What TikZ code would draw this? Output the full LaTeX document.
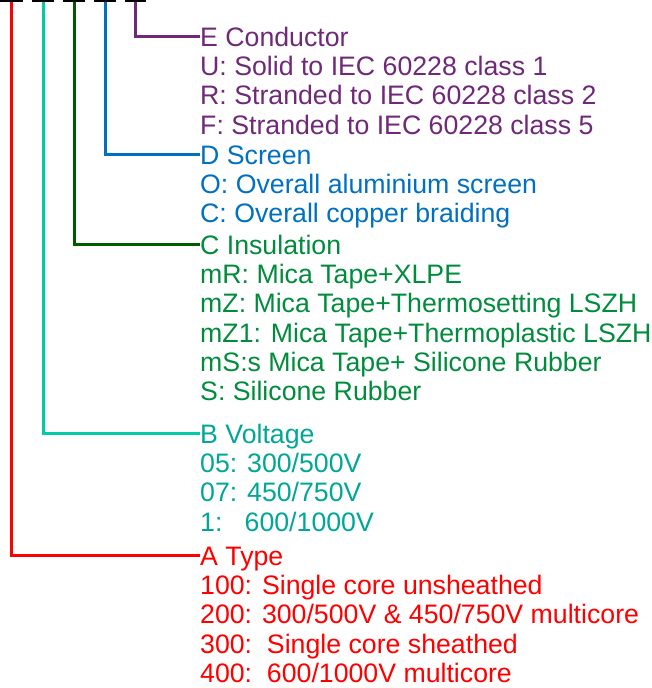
\documentclass[tikz,border=0pt]{standalone}
\usepackage{fontspec}
\setmainfont{Liberation Sans}
\usetikzlibrary{positioning}
\definecolor{typecolor}{RGB}{255,0,0}
\definecolor{voltline}{RGB}{0,204,170}
\definecolor{volttext}{RGB}{0,166,150}
\definecolor{insuline}{RGB}{0,90,0}
\definecolor{insutext}{RGB}{0,140,60}
\definecolor{screencolor}{RGB}{0,112,192}
\definecolor{condcolor}{RGB}{112,40,120}

\begin{document}
\begin{tikzpicture}[x=1pt, y=1pt,
    txt/.style={inner sep=0pt, font=\fontsize{26.7}{29.3}\selectfont},
    head/.style={txt, anchor=base west, text height=18.5pt, text depth=0pt},
    % the base of a list is its last line
    items/.style 2 args={txt, align=left, below=#2 of #1.base west, anchor=base west},
    wire/.style={line width=3pt}]
    \useasboundingbox (0,0) rectangle (651,-688);

    % code positions
    \foreach \name/\xa/\xb in {tA/0/23, tB/32/54, tC/63/85, tD/94/116, tE/125/146} {
        \draw[line width=3pt] (\xa,-0.5) -- (\xb,-0.5);
        \coordinate (\name) at ({(\xa+\xb)/2},-2);
    }

    % E
    \node[head, text=condcolor] (eHead) at (200,-46.2) {E Conductor};
    \node[items={eHead}{87.9pt}, text=condcolor] (eList) {U: Solid to IEC 60228 class 1\\R: Stranded to IEC 60228 class 2\\F: Stranded to IEC 60228 class 5};
    % D
    \node[head, text=screencolor] (dHead) at (200,-164.2) {D Screen};
    \node[items={dHead}{58.6pt}, text=screencolor] (dList) {O: Overall aluminium screen\\C: Overall copper braiding};
    % C
    \node[head, text=insutext] (cHead) at (200,-254.2) {C Insulation};
    \node[items={cHead}{146.5pt}, text=insutext] (cList) {mR: Mica Tape+XLPE\\mZ: Mica Tape+Thermosetting LSZH\\mZ1: Mica Tape+Thermoplastic LSZH\\mS:s Mica Tape+ Silicone Rubber\\S: Silicone Rubber};
    % B
    \node[head, text=volttext] (bHead) at (200,-443.2) {B Voltage};
    \node[items={bHead}{87.9pt}, text=volttext] (bList) {05: 300/500V\\07: 450/750V\\1:\ \ \ 600/1000V};
    % A
    \node[head, text=typecolor] (aHead) at (200,-565.2) {A Type};
    \node[items={aHead}{117.2pt}, text=typecolor] (aList) {100: Single core unsheathed\\200: 300/500V \& 450/750V multicore\\300:\ \ Single core sheathed\\400:\ \ 600/1000V multicore};

    \draw[wire, condcolor] (tE) |- (eHead.west);
    \draw[wire, screencolor] (tD) |- (dHead.west);
    \draw[wire, insuline] (tC) |- (cHead.west);
    \draw[wire, voltline] (tB) |- (bHead.west);
    \draw[wire, typecolor] (tA) |- (aHead.west);
\end{tikzpicture}
\end{document}
